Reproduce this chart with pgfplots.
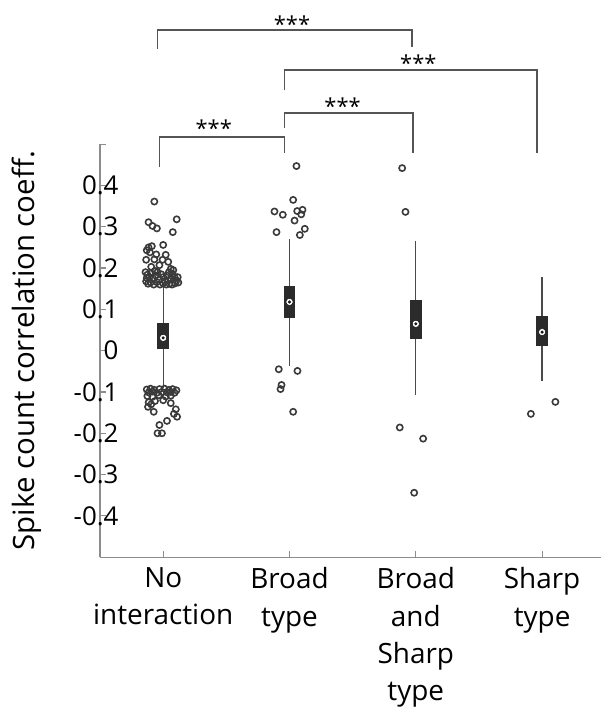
\documentclass[border=0pt]{standalone}
\usepackage{pgfplots}
\pgfplotsset{compat=1.18}
\usepackage{fontspec}
\setmainfont{Open Sans}
\definecolor{boxc}{HTML}{2B2B2B}
\definecolor{whc}{HTML}{4A4A4A}
\definecolor{outc}{HTML}{3A3A3A}
\definecolor{axc}{HTML}{8C8C8C}
\definecolor{brc}{HTML}{555555}
\tikzset{stars/.style={anchor=north, inner sep=0pt, font=\fontsize{22}{24}\selectfont}}
\pgfplotsset{outl/.style={only marks, mark=o, mark size=3.1bp, mark options={outc, line width=1.6bp}}}
\begin{document}
\begin{tikzpicture}
\begin{axis}[
    x=126.3bp, y=413bp,
    xmin=0.5, xmax=4.47, ymin=-0.5, ymax=0.5,
    axis lines*=left,
    axis line style={axc, line width=1.2bp},
    tick align=inside,
    major tick length=6bp,
    tick style={axc, line width=1.2bp},
    xtick={1,2,3,4},
    xticklabels={No\\interaction, Broad\\type, Broad\\and\\Sharp\\type, Sharp\\type},
    xticklabel style={align=center, font=\fontsize{28}{37.5}\selectfont, yshift=-7bp},
    ytick={-0.5,-0.4,-0.3,-0.2,-0.1,0,0.1,0.2,0.3,0.4,0.5},
    yticklabels={,-0.4,-0.3,-0.2,-0.1,0,0.1,0.2,0.3,0.4,},
    yticklabel style={font=\fontsize{26}{28}\selectfont, anchor=east, xshift=22bp},
    ylabel={Spike count correlation coeff.},
    ylabel style={font=\fontsize{29.5}{32}\selectfont, at={(axis description cs:-0.1456,0.5)}, anchor=center},
    clip=false,
]
% whiskers
\addplot[whc, line width=1.3bp] coordinates {(1,-0.090) (1,0.155)};
\addplot[whc, line width=1.3bp] coordinates {(2,-0.037) (2,0.270)};
\addplot[whc, line width=1.3bp] coordinates {(3,-0.107) (3,0.266)};
\addplot[whc, line width=1.3bp] coordinates {(4,-0.073) (4,0.178)};
% boxes (q1 to q3)
\addplot[boxc, line width=11.5bp] coordinates {(1,0.003) (1,0.066)};
\addplot[boxc, line width=11.5bp] coordinates {(2,0.080) (2,0.157)};
\addplot[boxc, line width=11.5bp] coordinates {(3,0.028) (3,0.123)};
\addplot[boxc, line width=11.5bp] coordinates {(4,0.011) (4,0.084)};
% medians
\addplot[only marks, mark=*, mark size=3.6bp, mark options={fill=white, draw=none}]
    coordinates {(1,0.031) (2,0.118) (3,0.065) (4,0.045)};
\addplot[only marks, mark=*, mark size=1.3bp, mark options={fill=boxc, draw=none}]
    coordinates {(1,0.031) (2,0.118) (3,0.065) (4,0.045)};
% outliers
\addplot[outl] coordinates {
    (0.93,0.361) (0.884,0.311) (0.915,0.302) (0.95,0.296) (1.107,0.318) (1.076,0.287)
    (0.884,0.250) (0.91,0.253) (1.0,0.256) (0.87,0.243) (0.895,0.238) (0.945,0.233)
    (1.02,0.232) (0.865,0.220) (0.93,0.221) (0.995,0.220) (0.97,0.207) (0.905,0.203)
    (1.04,0.215) (1.06,0.198)
    (0.86,0.190) (0.875,0.184) (0.89,0.178) (0.905,0.187) (0.92,0.175) (0.94,0.182)
    (0.955,0.190) (0.97,0.172) (0.985,0.185) (1.0,0.178) (1.015,0.168) (1.03,0.182)
    (1.045,0.190) (1.06,0.175) (1.075,0.186) (1.09,0.178) (1.105,0.170) (1.12,0.165)
    (0.865,0.168) (0.88,0.162) (0.9,0.165) (0.925,0.160) (0.95,0.166) (0.975,0.160)
    (1.0,0.163) (1.025,0.160) (1.05,0.162) (1.07,0.160) (1.095,0.163) (1.115,0.178)
    (0.935,0.193) (1.08,0.195) (0.87,0.176) (1.04,0.170)
    (0.87,-0.094) (0.9,-0.092) (0.93,-0.095) (0.97,-0.093) (1.01,-0.092) (1.045,-0.095)
    (1.075,-0.093) (1.105,-0.096) (0.885,-0.101) (0.915,-0.099) (0.95,-0.102) (0.99,-0.100)
    (1.03,-0.101) (1.06,-0.100) (1.09,-0.102)
    (0.875,-0.110) (0.915,-0.112) (0.965,-0.108) (1.02,-0.111) (1.06,-0.109)
    (0.885,-0.125) (0.935,-0.122) (1.06,-0.127) (0.88,-0.136) (0.925,-0.148) (1.1,-0.142)
    (1.085,-0.153) (1.11,-0.160) (1.03,-0.170) (0.97,-0.180) (0.955,-0.200) (0.99,-0.200)
    (0.905,-0.130) (1.0,-0.120)
};
\addplot[outl] coordinates {
    (2.055,0.447) (2.029,0.365) (1.881,0.337) (1.947,0.329) (2.061,0.338) (2.103,0.341)
    (2.093,0.330) (2.040,0.315) (1.897,0.287) (2.121,0.295) (2.082,0.280)
    (1.915,-0.045) (2.063,-0.049) (1.937,-0.083) (1.929,-0.093) (2.029,-0.148)
};
\addplot[outl] coordinates {
    (2.892,0.442) (2.918,0.336) (2.873,-0.186) (3.058,-0.213) (2.987,-0.344)
};
\addplot[outl] coordinates {(3.911,-0.153) (4.105,-0.124)};
% significance brackets
\addplot[brc, line width=1.8bp] coordinates {(0.955,0.730) (0.955,0.777) (2.97,0.777) (2.97,0.735)};
\addplot[brc, line width=1.8bp] coordinates {(1.96,0.631) (1.96,0.680) (3.96,0.680) (3.96,0.479)};
\addplot[brc, line width=1.8bp] coordinates {(1.96,0.539) (1.96,0.576) (2.98,0.576) (2.98,0.479)};
\addplot[brc, line width=1.8bp] coordinates {(0.97,0.445) (0.97,0.518) (1.96,0.518) (1.96,0.479)};
\node[stars] at (axis cs:2.02,0.811) {***};
\node[stars] at (axis cs:3.02,0.716) {***};
\node[stars] at (axis cs:2.42,0.612) {***};
\node[stars] at (axis cs:1.40,0.559) {***};
\coordinate (BL) at (axis cs:-0.292,-0.8724);
\coordinate (TR) at (axis cs:4.475,0.849);
\end{axis}
\pgfresetboundingbox
\useasboundingbox (BL) rectangle (TR);
\end{tikzpicture}
\end{document}
